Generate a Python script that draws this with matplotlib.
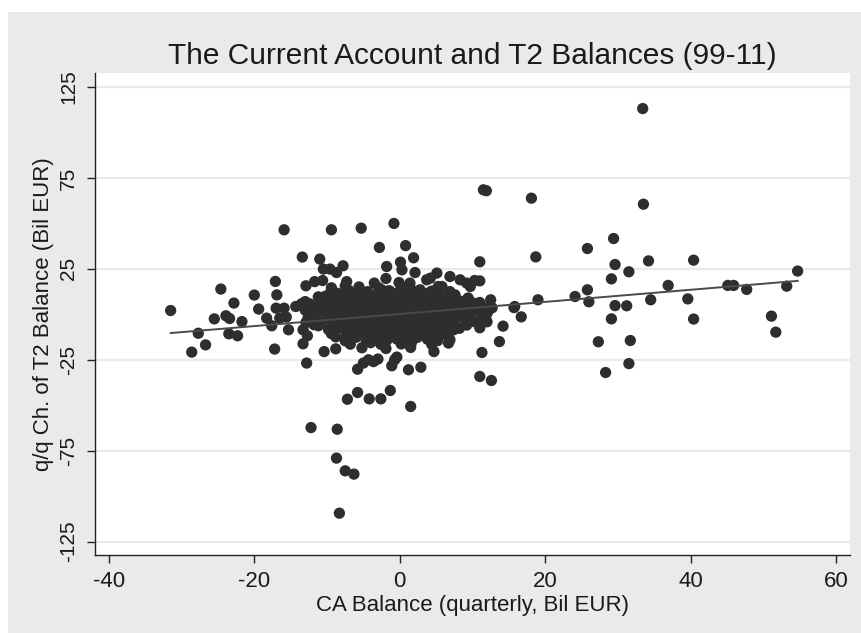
import matplotlib
matplotlib.use("Agg")
import matplotlib.pyplot as plt
import numpy as np

plt.rcParams['font.family'] = ['Liberation Sans', 'DejaVu Sans']
plt.rcParams['axes.unicode_minus'] = False

# outlying points (CA balance, q/q change of T2 balance)
outer = [
    (33.4, 113.2), (11.5, 68.5), (11.9, 68.0), (18.1, 63.9), (33.5, 60.6), (29.4, 41.7),
    (25.8, 36.2), (18.7, 31.6), (11.0, 28.9), (29.6, 27.4), (34.2, 29.4), (40.4, 29.8),
    (31.5, 23.4), (54.7, 23.8), (29.1, 19.5), (36.9, 15.9), (45.1, 15.9), (45.9, 15.9),
    (47.7, 13.7), (53.2, 15.5), (25.8, 13.5), (24.1, 9.8), (26.0, 6.9), (19.0, 8.0),
    (34.5, 8.0), (39.6, 8.5), (15.7, 3.7), (16.7, -1.4), (29.6, 4.8), (31.2, 4.7),
    (29.1, -2.5), (40.4, -2.6), (51.1, -1.0), (51.7, -9.8), (14.2, -6.5), (13.7, -15.0),
    (27.3, -15.1), (31.7, -14.4), (31.5, -27.1), (28.3, -32.0), (12.6, -36.4), (11.0, -34.2),
    (11.3, -21.0), (12.5, 8.0), (11.0, 18.4),
    (5.1, 22.7), (6.9, 20.8), (8.3, 19.0), (9.2, 17.2), (10.3, 18.6), (9.7, 15.3),
    (5.8, 15.3), (6.9, 12.5), (7.6, 10.7), (11.0, 6.5), (15.8, 4.3), (6.7, -15.8),
    (11.7, 3.4), (11.9, -0.3), (11.3, -4.0), (9.7, 0.7), (9.0, -3.0), (8.7, 4.3),
    (10.1, 6.2), (7.4, -8.5), (6.0, -10.3), (5.1, -12.2), (6.9, -14.0),
    (12.1, 1.4), (12.7, 3.6), (12.0, -4.1), (11.0, -7.4),
    (-9.4, 46.5), (-5.3, 47.4), (-0.8, 50.0), (-2.8, 36.8), (0.8, 37.8), (-13.4, 31.5),
    (-11.0, 30.4), (-7.8, 26.7), (-10.5, 24.9), (-9.6, 24.9), (-8.7, 23.0), (-1.8, 26.3),
    (0.1, 28.7), (1.9, 31.1), (0.3, 24.5), (2.1, 23.0), (-12.9, 15.7), (-11.7, 18.0),
    (-10.6, 18.6), (-9.4, 14.6), (-7.5, 15.7), (-7.3, 18.0), (-3.5, 17.2), (-1.9, 19.7),
    (-15.9, 46.5), (4.2, 19.9), (5.3, 15.3), (-0.1, 17.5), (1.4, 17.2), (2.8, 13.5),
    (3.7, 19.0), (-5.2, 12.5), (-2.5, 13.5), (-1.3, 11.7), (0.5, 13.5),
    (-14.3, 4.3), (-13.5, 5.8), (-13.0, 7.0), (-13.3, -8.5), (-12.7, -11.8), (-13.3, -16.2),
    (-12.8, -26.8), (-10.4, -20.5), (-8.8, -19.0), (-11.2, -6.3), (-11.4, -1.2), (-11.0, 8.0),
    (-10.3, 9.8), (-12.9, -4.5),
    (-5.8, -30.2), (-5.0, -26.8), (-4.3, -25.0), (-3.6, -26.0), (-3.0, -24.6), (-1.1, -28.3),
    (-0.7, -25.0), (-0.4, -23.5), (1.2, -30.5), (2.9, -29.1), (4.7, -20.5),
    (-7.2, -46.7), (-5.8, -43.0), (-4.2, -46.5), (-2.6, -46.5), (-1.3, -41.9), (1.5, -50.7),
    (-12.2, -62.3), (-8.6, -63.2), (-8.7, -79.1), (-7.5, -86.1), (-6.3, -87.9), (-8.3, -109.4),
    (-31.5, 2.1), (-28.6, -20.8), (-26.7, -16.8), (-27.7, -10.4), (-24.6, 13.9), (-25.5, -2.5),
    (-23.9, -0.8), (-23.4, -2.3), (-22.8, 6.2), (-21.7, -4.0), (-23.5, -10.7), (-22.3, -11.8),
    (-20.0, 10.6), (-19.4, 2.9), (-18.3, -2.1), (-17.6, -6.3), (-17.2, -19.1), (-17.1, 18.1),
    (-16.9, 10.7), (-17.0, 3.4), (-15.9, 3.4), (-16.5, -2.1), (-15.6, -1.5), (-15.3, -8.5),
]

# dense cluster around the origin, row by row
core_x = [
    -7.0, -5.6, -2.9, -1.4, 0.2, 1.6, 4.4,
    -8.6, -7.2, -5.8, -4.4, -3.0, -1.6, -0.2, 1.2, 2.6, 4.0, 5.4,
    -11.2, -9.8, -8.4, -5.7, -4.3, -3.0, -1.6, -0.2, 1.2, 2.6, 4.0, 5.3, 6.7, 9.4,
    -10.4, -9.0, -7.6, -6.2, -4.8, -3.4, -2.0, -0.6, 0.8, 2.2, 3.6, 5.0, 6.4, 7.8,
    -12.4, -9.6, -8.2, -6.9, -5.5, -4.1, -2.7, -1.3, 0.1, 1.5, 2.9, 4.3, 5.6, 7.0, 8.4,
    -11.2, -9.8, -8.4, -7.0, -5.6, -4.2, -2.8, -1.4, 0.0, 1.4, 2.8, 4.2, 5.6, 7.0, 8.4, 9.8,
    -13.0, -11.6, -10.2, -8.8, -7.4, -6.0, -4.6, -3.2, -1.8, -0.4, 1.0, 2.4, 3.8, 5.2, 6.6, 8.0, 10.8,
    -11.4, -10.0, -8.6, -7.2, -5.8, -4.4, -3.0, -1.6, -0.2, 1.2, 2.6, 4.0, 5.4, 6.8, 8.2, 9.6,
    -12.6, -9.8, -8.4, -7.0, -5.6, -4.2, -2.8, -1.4, 0.0, 1.4, 2.8, 4.2, 5.6, 7.0, 8.4, 11.2,
    -10.8, -9.4, -8.0, -6.6, -5.2, -3.8, -2.4, -1.0, 0.4, 1.8, 3.2, 4.6, 6.0, 7.4, 10.2,
    -11.8, -9.0, -7.6, -6.2, -4.8, -3.4, -2.0, -0.6, 0.8, 2.2, 3.6, 5.0, 6.4, 9.2,
    -9.8, -8.4, -7.0, -5.6, -4.2, -2.8, -1.4, 0.0, 1.4, 2.8, 4.2, 5.6, 8.2,
    -9.4, -6.6, -5.2, -3.8, -2.4, -1.0, 0.4, 1.8, 3.2, 4.6, 6.0,
    -8.8, -7.4, -6.0, -4.6, -3.2, -1.8, -0.4, 1.0, 2.4, 3.8, 6.6,
    -7.5, -4.6, -3.2, -1.8, -0.4, 1.0, 3.8, 5.2,
    -6.8, -4.0, -2.6, 0.2, 1.6, 4.4,
    -5.2, -1.9, 1.5,
]
core_y = [
    13.2, 15.1, 14.6, 12.9, 15.3, 13.6, 12.8,
    11.6, 12.8, 11.9, 12.5, 11.4, 12.9, 12.0, 11.7, 12.6, 11.8, 12.4,
    9.6, 10.8, 9.1, 9.8, 11.0, 9.3, 10.2, 11.4, 9.5, 10.7, 9.9, 11.2, 9.4, 9.0,
    7.6, 8.7, 7.9, 8.4, 7.5, 8.9, 8.1, 7.7, 8.6, 7.8, 8.3, 7.4, 8.8, 8.0,
    5.8, 5.2, 6.4, 7.1, 5.5, 6.2, 7.3, 5.6, 6.8, 5.3, 6.6, 7.0, 5.4, 6.1, 7.2,
    3.6, 4.6, 3.8, 4.4, 3.5, 4.8, 4.0, 3.7, 4.5, 3.9, 4.3, 3.4, 4.7, 4.0, 3.6, 4.4,
    2.3, 1.4, 2.9, 1.7, 2.6, 1.1, 2.4, 3.0, 1.5, 2.2, 1.2, 2.8, 1.6, 2.5, 1.3, 2.7, 2.1,
    -0.5, 0.6, -0.3, 0.4, -0.6, 0.3, -0.2, 0.7, -0.4, 0.1, -0.6, 0.5, -0.1, 0.4, -0.5, 0.2,
    -1.8, -1.3, -2.4, -1.6, -2.9, -1.9, -1.2, -2.6, -1.7, -2.8, -1.4, -2.3, -1.9, -2.6, -1.5, -1.1,
    -4.5, -3.6, -4.2, -4.7, -3.9, -4.4, -3.5, -4.1, -4.8, -3.7, -4.3, -3.9, -4.6, -3.8, -4.0,
    -5.7, -5.3, -6.8, -5.9, -6.3, -5.5, -6.9, -5.8, -6.4, -5.4, -6.7, -6.0, -5.6, -5.9,
    -8.4, -7.6, -8.7, -8.0, -8.5, -7.7, -8.3, -8.8, -7.8, -8.2, -8.6, -7.9, -7.7,
    -10.6, -10.9, -9.7, -10.3, -9.5, -11.0, -9.9, -10.4, -9.6, -10.8, -10.1,
    -12.4, -12.0, -12.6, -11.7, -12.3, -12.8, -11.9, -12.2, -12.7, -11.8, -12.1,
    -14.6, -14.9, -13.9, -14.4, -13.6, -14.8, -13.7, -14.5,
    -16.4, -15.6, -16.5, -16.3, -15.7, -16.6,
    -18.4, -18.8, -18.2,
]

# fitted line end points
fit_x = [-31.5, 54.7]
fit_y = [-10.3, 18.4]

xticks = [-40, -20, 0, 20, 40, 60]
yticks = [-125, -75, -25, 25, 75, 125]

ca = [p[0] for p in outer] + core_x
t2 = [p[1] for p in outer] + core_y

fig = plt.figure(figsize=(8.61, 6.33), dpi=100, facecolor='white')
bg = plt.Rectangle((8 / 861, 0), 1, 1 - 12 / 633, transform=fig.transFigure,
                   facecolor='#eaeaea', edgecolor='none', zorder=-10)
fig.patches.append(bg)

ax = fig.add_axes([95 / 861, 1 - 555 / 633, 755 / 861, (555 - 73.3) / 633])
ax.set_facecolor('white')

ax.scatter(ca, t2, s=66, color='#2e2e2e', edgecolors='none', zorder=3)
ax.plot(fit_x, fit_y, color='#4a4a4a', lw=1.4, zorder=4)

ax.set_xlim(-41.9, 61.9)
ax.set_ylim(-132.4, 132.6)
ax.set_xticks(xticks)
ax.set_yticks(yticks)
ax.set_yticklabels([str(v) for v in yticks], rotation=90, va='center')
ax.yaxis.grid(True, color='#eaeaea', lw=1.6)
ax.set_axisbelow(True)

for s in ['top', 'right']:
    ax.spines[s].set_visible(False)
for s in ['left', 'bottom']:
    ax.spines[s].set_color('#222222')
    ax.spines[s].set_linewidth(1.0)

ax.tick_params(axis='both', length=6, width=1.0, color='#222222', labelcolor='#1a1a1a')
ax.tick_params(axis='x', labelsize=16, pad=5.5)
ax.tick_params(axis='y', labelsize=15, pad=6)

ax.set_title("The Current Account and T2 Balances (99-11)", fontsize=21.5,
             color='#1a1a1a', pad=7)
ax.set_xlabel("CA Balance (quarterly, Bil EUR)", fontsize=16, color='#1a1a1a', labelpad=2)
ax.set_ylabel("q/q Ch. of T2 Balance (Bil EUR)", fontsize=16, color='#1a1a1a', labelpad=4)

fig.savefig("out.png", dpi=100, facecolor=fig.get_facecolor())
